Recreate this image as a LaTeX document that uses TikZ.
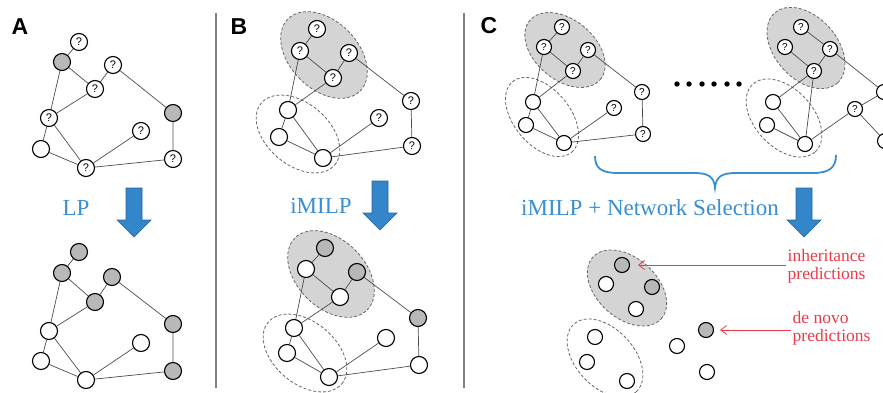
\documentclass[tikz,border=0pt]{standalone}
\usepackage{fontspec}
\setmainfont{Liberation Serif}
\newfontfamily\lblfont{Liberation Sans}
\usetikzlibrary{arrows.meta}
\definecolor{myblue}{RGB}{58,142,210}
\definecolor{arrblue}{RGB}{52,134,202}
\definecolor{arrborder}{RGB}{38,98,158}
\definecolor{myred}{RGB}{238,58,72}
\definecolor{ndgray}{RGB}{184,184,184}
\definecolor{ellgray}{RGB}{212,212,212}
\definecolor{sepgray}{RGB}{128,128,128}
\tikzset{
  nd/.style={circle,draw=black,line width=1.1pt,minimum size=17pt,inner sep=0pt,fill=white,font=\lblfont\fontsize{11}{11}\selectfont},
  gn/.style={nd,fill=ndgray},
  sm/.style={minimum size=15pt,font=\lblfont\fontsize{10}{10}\selectfont},
  edge/.style={draw=black!70,line width=0.7pt},
  grayell/.style={fill=ellgray,draw=black!60,dash pattern=on 3pt off 2pt,line width=0.8pt},
  dashell/.style={draw=black!60,dash pattern=on 3pt off 2pt,line width=0.8pt},
  sepline/.style={draw=sepgray,line width=1.5pt},
  paneltitle/.style={font=\lblfont\bfseries\fontsize{23}{23}\selectfont,inner sep=0pt},
  bluetxt/.style={text=myblue,font=\fontsize{23}{23}\selectfont,inner sep=0pt},
  redtxt/.style={text=myred,font=\fontsize{17.5}{18}\selectfont,inner sep=1.5pt,align=left},
  redarr/.style={draw=myred,line width=0.8pt,-{Straight Barb[length=6pt,width=9pt]}},
  bracestyle/.style={draw=myblue,line width=1.8pt},
  bigdown/.pic={\draw[fill=arrblue,draw=arrborder,line width=0.6pt] (-8,0) -- (8,0) -- (8,32) -- (17,32) -- (0,49) -- (-17,32) -- (-8,32) -- cycle;}
}
\begin{document}
\begin{tikzpicture}[x=1pt,y=-1pt]
\useasboundingbox (0,0) rectangle (883,393);

% separators
\draw[sepline] (216,13) -- (216,388);
\draw[sepline] (464,13) -- (464,388);

% panel titles
\node[paneltitle] (tA) at (20,27) {A};
\node[paneltitle] (tB) at (239,27) {B};
\node[paneltitle] (tC) at (489,26) {C};

% ellipses
\draw[grayell,rotate around={-45:(324,55)}] (324,55) ellipse [x radius=51pt, y radius=34pt];
\draw[dashell,rotate around={-40:(298,134)}] (298,134) ellipse [x radius=48pt, y radius=31pt];
\draw[grayell,rotate around={-45:(331,274)}] (331,274) ellipse [x radius=51pt, y radius=34pt];
\draw[dashell,rotate around={-40:(305,353)}] (305,353) ellipse [x radius=48pt, y radius=31pt];
\draw[grayell,rotate around={-40:(565,50)}] (565,50) ellipse [x radius=46pt, y radius=30pt];
\draw[dashell,rotate around={-50:(542,117)}] (542,117) ellipse [x radius=46pt, y radius=28pt];
\draw[grayell,rotate around={-48:(806,48)}] (806,48) ellipse [x radius=47pt, y radius=31pt];
\draw[dashell,rotate around={-47:(784,118)}] (784,118) ellipse [x radius=46pt, y radius=29pt];
\draw[grayell,rotate around={-42:(627,288)}] (627,288) ellipse [x radius=46pt, y radius=30pt];
\draw[dashell,rotate around={-47:(605,358)}] (605,358) ellipse [x radius=46pt, y radius=29pt];

% ---- Panel A top
\node[nd] (a1) at (79,42) {?};
\node[gn] (a2) at (62,62) {};
\node[nd] (a3) at (113,65) {?};
\node[nd] (a4) at (95,89) {?};
\node[gn] (a5) at (173,113) {};
\node[nd] (a6) at (49,118) {?};
\node[nd] (a7) at (141,131) {?};
\node[nd] (a8) at (41,149) {};
\node[nd] (a9) at (86,168) {?};
\node[nd] (a10) at (173,159) {?};
\draw[edge] (a1)--(a2) (a2)--(a4) (a2)--(a6) (a3)--(a4) (a3)--(a5) (a4)--(a6)
  (a6)--(a8) (a6)--(a9) (a8)--(a9) (a9)--(a7) (a9)--(a10) (a5)--(a10);

% ---- Panel A bottom
\node[gn] (b1) at (79,252) {};
\node[gn] (b2) at (62,273) {};
\node[gn] (b3) at (112,277) {};
\node[gn] (b4) at (95,302) {};
\node[gn] (b5) at (173,324) {};
\node[nd] (b6) at (49,331) {};
\node[nd] (b7) at (141,343) {};
\node[nd] (b8) at (41,361) {};
\node[nd] (b9) at (86,380) {};
\node[gn] (b10) at (173,371) {};
\draw[edge] (b1)--(b2) (b2)--(b4) (b2)--(b6) (b3)--(b4) (b3)--(b5) (b4)--(b6)
  (b6)--(b8) (b6)--(b9) (b8)--(b9) (b9)--(b7) (b9)--(b10) (b5)--(b10);

% ---- Panel B top
\node[nd] (c1) at (317,29) {?};
\node[nd] (c2) at (300,51) {?};
\node[nd] (c3) at (349,53) {?};
\node[nd] (c4) at (333,78) {?};
\node[nd] (c5) at (411,101) {?};
\node[nd] (c6) at (288,110) {};
\node[nd] (c7) at (379,118) {?};
\node[nd] (c8) at (279,137) {};
\node[nd] (c9) at (323,158) {};
\node[nd] (c10) at (412,146) {?};
\draw[edge] (c1)--(c2) (c2)--(c4) (c3)--(c4) (c2)--(c6) (c4)--(c6) (c3)--(c5)
  (c5)--(c10) (c6)--(c8) (c6)--(c9) (c8)--(c9) (c9)--(c7) (c9)--(c10);

% ---- Panel B bottom
\node[gn] (d1) at (325,248) {};
\node[nd] (d2) at (306,269) {};
\node[gn] (d3) at (357,272) {};
\node[nd] (d4) at (340,297) {};
\node[gn] (d5) at (418,318) {};
\node[nd] (d6) at (294,328) {};
\node[nd] (d7) at (386,338) {};
\node[nd] (d8) at (287,353) {};
\node[nd] (d9) at (329,377) {};
\node[nd] (d10) at (419,365) {};
\draw[edge] (d1)--(d2) (d2)--(d4) (d3)--(d4) (d2)--(d6) (d4)--(d6) (d3)--(d5)
  (d5)--(d10) (d6)--(d8) (d6)--(d9) (d8)--(d9) (d9)--(d7) (d9)--(d10);

% ---- Panel C top left
\node[nd,sm] (e1) at (562,27) {?};
\node[nd,sm] (e2) at (544,47) {?};
\node[nd,sm] (e3) at (588,50) {?};
\node[nd,sm] (e4) at (573,71) {?};
\node[nd,sm] (e5) at (642,92) {?};
\node[nd,sm] (e6) at (533,102) {};
\node[nd,sm] (e7) at (614,108) {?};
\node[nd,sm] (e8) at (526,125) {};
\node[nd,sm] (e9) at (564,143) {};
\node[nd,sm] (e10) at (643,134) {?};
\draw[edge] (e1)--(e2) (e2)--(e4) (e3)--(e4) (e2)--(e6) (e4)--(e6) (e3)--(e5)
  (e5)--(e10) (e6)--(e8) (e6)--(e9) (e8)--(e9) (e9)--(e7) (e9)--(e10);

% dots
\foreach \i/\xx in {1/677,2/689,3/702,4/714,5/727,6/739}
  \fill (\xx,84) circle [radius=2.7pt];

% ---- Panel C top right
\node[nd,sm] (f1) at (801,27) {?};
\node[nd,sm] (f2) at (785,47) {?};
\node[nd,sm] (f3) at (830,49) {?};
\node[nd,sm] (f4) at (814,71) {?};
\node[nd,sm] (f6) at (773,102) {};
\node[nd,sm] (f8) at (767,125) {};
\node[nd,sm] (f9) at (805,144) {};
\node[nd,sm] (f7) at (855,109) {?};
\node[nd,sm] (fA) at (884,92) {};
\node[nd,sm] (fB) at (885,141) {};
\draw[edge] (f1)--(f3) (f2)--(f4) (f3)--(f4) (f4)--(f6) (f4)--(f9) (f6)--(f9)
  (f8)--(f9) (f9)--(f7) (f3)--(fA) (f7)--(fA) (f7)--(fB);

% brace
\draw[bracestyle] (595,156) .. controls (595,168) and (601,173) .. (618,173) -- (694,173)
  .. controls (709,173) and (714,177) .. (715,188)
  .. controls (716,177) and (721,173) .. (736,173) -- (813,173)
  .. controls (830,173) and (836,167) .. (836,155);

% ---- Panel C bottom
\node[gn,sm] (g1) at (622,265) {};
\node[nd,sm] (g2) at (606,284) {};
\node[gn,sm] (g3) at (652,287) {};
\node[nd,sm] (g4) at (636,309) {};
\node[nd,sm] (g5) at (595,337) {};
\node[nd,sm] (g6) at (587,362) {};
\node[nd,sm] (g7) at (627,381) {};
\node[nd,sm] (g8) at (677,346) {};
\node[gn,sm] (g9) at (706,330) {};
\node[nd,sm] (g10) at (707,372) {};

% blue arrows and labels
\pic at (134,188) {bigdown};
\pic at (380,181) {bigdown};
\pic at (804,188) {bigdown};
\node[bluetxt,anchor=base] (lp) at (76,215) {LP};
\node[bluetxt,anchor=base] (im) at (321,213) {iMILP};
\node[bluetxt,anchor=base] (ns) at (650,215) {iMILP + Network Selection};

% red labels
\node[redtxt,anchor=west] (inh) at (786,266) {inheritance\\predictions};
\node[redtxt,anchor=west] (dn) at (791,328) {de novo\\predictions};
\draw[redarr,shorten >=8pt] (inh.west |- g1) -- (g1);
\draw[redarr,shorten >=6pt] (dn.west |- g9) -- (g9);
\end{tikzpicture}
\end{document}
